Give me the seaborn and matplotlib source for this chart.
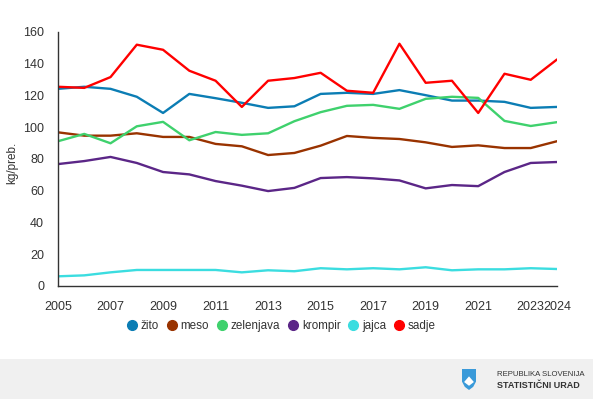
import matplotlib
matplotlib.use("Agg")
import matplotlib.pyplot as plt
import matplotlib.patches as mpatches
from matplotlib.lines import Line2D
import seaborn as sns
import pandas as pd

years = list(range(2005, 2025))
zito = [124.2, 125.5, 124.2, 119.2, 109.0, 121.0, 118.3, 115.4, 112.2, 113.2, 121.0, 121.7, 121.0, 123.4, 120.2, 116.8, 116.8, 116.0, 112.2, 112.8]
meso = [96.8, 94.7, 94.7, 96.2, 93.9, 93.9, 89.5, 88.0, 82.5, 83.8, 88.4, 94.5, 93.3, 92.6, 90.5, 87.6, 88.6, 86.9, 86.9, 91.2]
zelenjava = [91.2, 95.8, 89.9, 100.6, 103.4, 91.8, 97.0, 95.2, 96.2, 103.8, 109.5, 113.5, 114.1, 111.6, 117.9, 119.2, 118.5, 104.0, 100.8, 103.2]
krompir = [76.8, 78.7, 81.3, 77.5, 71.8, 70.3, 66.1, 63.2, 59.8, 61.8, 68.0, 68.6, 67.8, 66.5, 61.5, 63.6, 62.9, 71.8, 77.5, 78.1]
jajca = [6.1, 6.7, 8.6, 10.1, 10.1, 10.1, 10.1, 8.6, 9.9, 9.3, 11.2, 10.5, 11.2, 10.5, 11.8, 9.9, 10.5, 10.5, 11.2, 10.7]
sadje = [125.5, 124.8, 131.6, 152.0, 148.8, 135.6, 129.3, 112.8, 129.3, 131.0, 134.3, 123.0, 121.7, 152.6, 128.0, 129.3, 109.0, 133.7, 129.9, 142.7]

series_names = ["žito", "meso", "zelenjava", "krompir", "jajca", "sadje"]
colors = ["#0b7db4", "#993300", "#3fd16d", "#5b2687", "#3bdde0", "#ff0000"]
xtick_labels = ["2005", "2007", "2009", "2011", "2013", "2015", "2017", "2019", "2021", "2023", "2024"]

df = pd.DataFrame({"leto": years * 6,
                   "vrednost": zito + meso + zelenjava + krompir + jajca + sadje,
                   "serija": [n for n in series_names for _ in years]})

sns.set_theme(style="white")
plt.rcParams['font.family'] = ['Liberation Sans', 'DejaVu Sans']

fig = plt.figure(figsize=(5.93, 3.99), dpi=100)
ax = fig.add_axes([58/593, 1-286/399, (557-58)/593, (286-32)/399])

sns.lineplot(data=df, x="leto", y="vrednost", hue="serija", hue_order=series_names,
             palette=colors, linewidth=1.7, ax=ax, legend=False)

ax.set_xlim(2005, 2024)
ax.set_ylim(0, 160)
ax.set_yticks(range(0, 161, 20))
ax.set_xticks(years)
ax.set_xticklabels([str(y) if str(y) in xtick_labels else "" for y in years])
ax.tick_params(axis='x', length=5, width=1, color="#999999", labelsize=9, labelcolor="#333333", pad=6)
ax.tick_params(axis='y', length=4, width=1, color="#999999", labelsize=9, labelcolor="#333333", pad=6)
for s in ["top", "right"]:
    ax.spines[s].set_visible(False)
for s in ["left", "bottom"]:
    ax.spines[s].set_color("#333333")
    ax.spines[s].set_linewidth(1)
ax.set_xlabel("")
ax.set_ylabel("")
fig.text(12/593, 1-163/399, "kg/preb.", rotation=90, fontsize=8.5, color="#333333", ha='center', va='center')

handles = [Line2D([], [], marker='o', linestyle='none', markersize=7, markerfacecolor=c,
                  markeredgecolor=c, label=n) for n, c in zip(series_names, colors)]
leg = fig.legend(handles=handles, loc='center', bbox_to_anchor=(281/593, 1-326/399), ncol=6,
                 frameon=False, fontsize=8.4, handletextpad=0.25, columnspacing=0.6, handlelength=1.0)
for t in leg.get_texts():
    t.set_color("#333333")

# footer
fig.patches.append(mpatches.Rectangle((0, 0), 1, 40/399, transform=fig.transFigure,
                                      facecolor="#f0f0f0", edgecolor="none", zorder=0))
# logo shield
sx, sy = 462/593, 1-369/399
w, h = 14/593, 21/399
shield = mpatches.Polygon([(sx, sy), (sx+w, sy), (sx+w, sy-0.6*h), (sx+0.8*w, sy-0.85*h), (sx+w/2, sy-h),
                           (sx+0.2*w, sy-0.85*h), (sx, sy-0.6*h)],
                          closed=True, transform=fig.transFigure, facecolor="#3a9ad9", edgecolor="none")
fig.patches.append(shield)
mount = mpatches.Polygon([(sx+0.15*w, sy-0.62*h), (sx+0.5*w, sy-0.35*h), (sx+0.85*w, sy-0.62*h),
                          (sx+0.5*w, sy-0.8*h)],
                         closed=True, transform=fig.transFigure, facecolor="white", edgecolor="none")
fig.patches.append(mount)
fig.text(497/593, 1-375/399, "REPUBLIKA SLOVENIJA", fontsize=5.6, color="#333333", va='center', ha='left')
fig.text(497/593, 1-386/399, "STATISTIČNI URAD", fontsize=6.5, color="#333333", va='center', ha='left',
         fontweight='bold')

fig.savefig("out.png", dpi=100)
